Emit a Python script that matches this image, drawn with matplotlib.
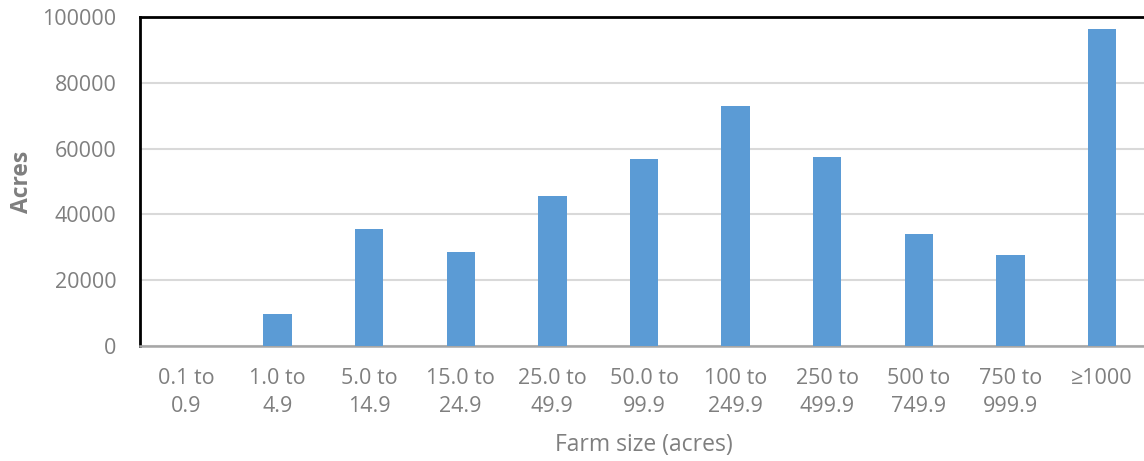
import matplotlib.pyplot as plt
import numpy as np

plt.rcParams['font.family'] = ['Open Sans', 'DejaVu Sans']

# data
categories = ['0.1 to\n0.9', '1.0 to\n4.9', '5.0 to\n14.9', '15.0 to\n24.9', '25.0 to\n49.9',
              '50.0 to\n99.9', '100 to\n249.9', '250 to\n499.9', '500 to\n749.9',
              '750 to\n999.9', '\u22651000']
acres = [0, 9800, 35700, 28700, 45600, 56800, 72900, 57500, 33900, 27800, 96500]

gray = '#7f7f7f'

fig = plt.figure(figsize=(11.44, 4.61), dpi=100)
ax = fig.add_axes([140 / 1144, 1 - 346 / 461, 1008 / 1144, 329 / 461])

x = np.arange(len(categories))
ax.bar(x, acres, width=0.31, color='#5b9bd5', zorder=3)

ax.set_xlim(-0.5, len(categories) - 0.5)
ax.set_ylim(0, 100000)
ax.set_yticks(np.arange(0, 100001, 20000))
ax.set_xticks(x)
ax.set_xticklabels(categories, linespacing=1.4)

ax.grid(axis='y', color='#d9d9d9', linewidth=1.5, zorder=0)
ax.tick_params(axis='both', length=0, labelcolor=gray, labelsize=15.5)
ax.tick_params(axis='x', pad=16)
ax.tick_params(axis='y', pad=17)

for side in ['top', 'left']:
    ax.spines[side].set_color('black')
    ax.spines[side].set_linewidth(2)
ax.spines['bottom'].set_color('#a6a6a6')
ax.spines['bottom'].set_linewidth(1.8)
ax.spines['right'].set_visible(False)

ax.set_ylabel('Acres', color=gray, fontsize=16.5, fontweight='bold', labelpad=6)
ax.set_xlabel('Farm size (acres)', color=gray, fontsize=16.5, labelpad=12)

fig.savefig('out.png', dpi=100)
